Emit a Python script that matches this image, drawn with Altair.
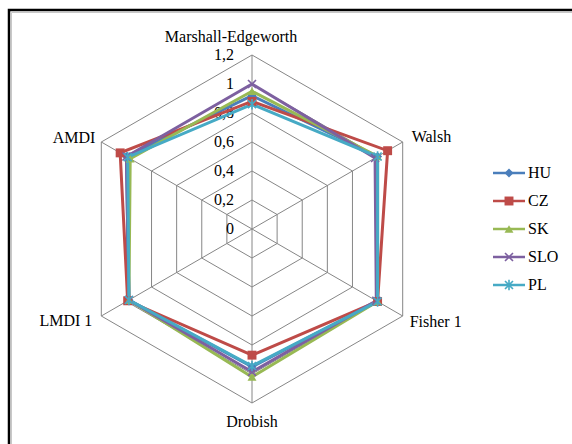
import math

import altair as alt
import pandas as pd

# ---- data -------------------------------------------------------------
categories = ["Marshall-Edgeworth", "Walsh", "Fisher 1", "Drobish", "LMDI 1", "AMDI"]
series = ["HU", "CZ", "SK", "SLO", "PL"]

hu = [0.92, 1.00, 1.00, 0.95, 0.98, 1.00]
cz = [0.88, 1.08, 1.00, 0.87, 0.99, 1.05]
sk = [0.95, 1.00, 1.00, 1.02, 0.98, 0.97]
slo = [1.00, 0.98, 0.99, 0.985, 0.98, 1.00]
pl = [0.86, 1.00, 1.00, 0.945, 0.98, 0.99]

tick_values = [0, 0.2, 0.4, 0.6, 0.8, 1.0, 1.2]
tick_labels = ["0", "0,2", "0,4", "0,6", "0,8", "1", "1,2"]

colors = ["#4A7EBB", "#BE4B48", "#98B954", "#7D60A0", "#46AAC5"]
shapes = [
    "diamond",
    "square",
    "triangle-up",
    "M-1,-1L1,1M-1,1L1,-1",
    "M-1,-1L1,1M-1,1L1,-1M0,-1.3L0,1.3",
]

# ---- geometry of the radar ------------------------------------------
W, H = 572, 444
CX, CY = 252, 229      # centre of the radar in pixels
UNIT = 145             # pixels per 1.0 on the radial axis
R_MAX = tick_values[-1]
FONT = "'Liberation Serif', 'Times New Roman', serif"

angles = [90 - 60 * i for i in range(len(categories))]


def polar(r, k):
    a = math.radians(angles[k % len(angles)])
    return r * math.cos(a), r * math.sin(a)


x_scale = alt.Scale(domain=[-CX / UNIT, (W - CX) / UNIT], nice=False, zero=False)
y_scale = alt.Scale(domain=[-(H - CY) / UNIT, CY / UNIT], nice=False, zero=False)
X = lambda f="x": alt.X(f"{f}:Q", scale=x_scale, axis=None)
Y = lambda f="y": alt.Y(f"{f}:Q", scale=y_scale, axis=None)

color_scale = alt.Scale(domain=series, range=colors)
shape_scale = alt.Scale(domain=series, range=shapes)

# ---- tables -----------------------------------------------------------
rows = []
for name, vals in zip(series, [hu, cz, sk, slo, pl]):
    for k in range(len(categories) + 1):
        x, y = polar(vals[k % len(vals)], k)
        rows.append({"series": name, "k": k, "x": x, "y": y,
                     "category": categories[k % len(categories)]})
df = pd.DataFrame(rows)
df_pts = df[df.k < len(categories)]

ring_rows = []
for r in tick_values[1:]:
    for k in range(len(categories) + 1):
        x, y = polar(r, k)
        ring_rows.append({"ring": r, "k": k, "x": x, "y": y})
df_rings = pd.DataFrame(ring_rows)

spoke_rows = []
for k in range(len(categories)):
    for j, r in enumerate([0, R_MAX]):
        x, y = polar(r, k)
        spoke_rows.append({"spoke": k, "k": j, "x": x, "y": y})
df_spokes = pd.DataFrame(spoke_rows)

df_ticks = pd.DataFrame({"x": [0.0] * len(tick_values), "y": tick_values, "label": tick_labels})

# ---- layers -------------------------------------------------------------
grid_style = dict(color="#868686", strokeWidth=1)

rings = alt.Chart(df_rings).mark_line(**grid_style).encode(
    x=X(), y=Y(), detail="ring:N", order="k:Q")
spokes = alt.Chart(df_spokes).mark_line(**grid_style).encode(
    x=X(), y=Y(), detail="spoke:N", order="k:Q")

ticks = alt.Chart(df_ticks).mark_text(
    align="right", baseline="middle", dx=-18, font=FONT, fontSize=16, color="black"
).encode(x=X(), y=Y(), text="label:N")


def cat_label(k, align, dx, dy):
    x, y = polar(R_MAX, k)
    d = pd.DataFrame({"x": [x], "y": [y], "label": [categories[k]]})
    return alt.Chart(d).mark_text(
        align=align, baseline="middle", dx=dx, dy=dy,
        font=FONT, fontSize=16, color="black"
    ).encode(x=X(), y=Y(), text="label:N")


labels = [
    cat_label(0, "center", -21, -18),
    cat_label(1, "left", 9, -5),
    cat_label(2, "left", 7, 6),
    cat_label(3, "center", 0, 19),
    cat_label(4, "right", -9, 5),
    cat_label(5, "right", -6, -4),
]

lines = alt.Chart(df).mark_line(strokeWidth=3).encode(
    x=X(), y=Y(),
    color=alt.Color("series:N", scale=color_scale, legend=None),
    detail="series:N", order="k:Q")

filled_pts = alt.Chart(df_pts[df_pts.series.isin(series[:3])]).mark_point(
    filled=True, size=80, opacity=1
).encode(
    x=X(), y=Y(),
    color=alt.Color("series:N", scale=color_scale, legend=None),
    shape=alt.Shape("series:N", scale=shape_scale, legend=None))

stroked_pts = alt.Chart(df_pts[df_pts.series.isin(series[3:])]).mark_point(
    filled=False, size=64, strokeWidth=1.6, opacity=1
).encode(
    x=X(), y=Y(),
    color=alt.Color("series:N", scale=color_scale, legend=None),
    shape=alt.Shape("series:N", scale=shape_scale, legend=None))

# ---- legend on the right ----------------------------------------------
df_leg = pd.DataFrame({"series": series})
leg_y = alt.Y("series:N",
              scale=alt.Scale(type="point", domain=series, range=[173, 285], padding=0),
              axis=None)
leg_color = alt.Color("series:N", scale=color_scale, legend=None)

leg_rule = alt.Chart(df_leg).mark_rule(strokeWidth=2.5).encode(
    x=alt.value(493), x2=alt.value(525), y=leg_y, color=leg_color)
leg_fill = alt.Chart(df_leg[df_leg.series.isin(series[:3])]).mark_point(
    filled=True, size=80, opacity=1
).encode(x=alt.value(509), y=leg_y, color=leg_color,
         shape=alt.Shape("series:N", scale=shape_scale, legend=None))
leg_stroke = alt.Chart(df_leg[df_leg.series.isin(series[3:])]).mark_point(
    filled=False, size=64, strokeWidth=1.6, opacity=1
).encode(x=alt.value(509), y=leg_y, color=leg_color,
         shape=alt.Shape("series:N", scale=shape_scale, legend=None))
leg_text = alt.Chart(df_leg).mark_text(
    align="left", baseline="middle", font=FONT, fontSize=16, color="black"
).encode(x=alt.value(528), y=leg_y, text="series:N")

# ---- frame around the chart area ----------------------------------------
one = pd.DataFrame({"a": [0]})
frame = alt.Chart(one).mark_rect(fill=None, stroke="black", strokeWidth=2.5).encode(
    x=alt.value(9), y=alt.value(10), x2=alt.value(W + 20), y2=alt.value(H + 20))
frame_inner = alt.Chart(one).mark_rect(fill=None, stroke="#c8c8c8", strokeWidth=1).encode(
    x=alt.value(11.5), y=alt.value(12.5), x2=alt.value(W + 20), y2=alt.value(H + 20))

chart = alt.layer(
    frame_inner, frame, rings, spokes, ticks, *labels,
    lines, filled_pts, stroked_pts,
    leg_rule, leg_fill, leg_stroke, leg_text,
).resolve_scale(y="independent").properties(
    width=W, height=H, padding=0, autosize=alt.AutoSizeParams(type="none"),
    background="white",
).configure_view(stroke=None)

chart.save("out.html", embed_options={"renderer": "svg", "actions": False})
